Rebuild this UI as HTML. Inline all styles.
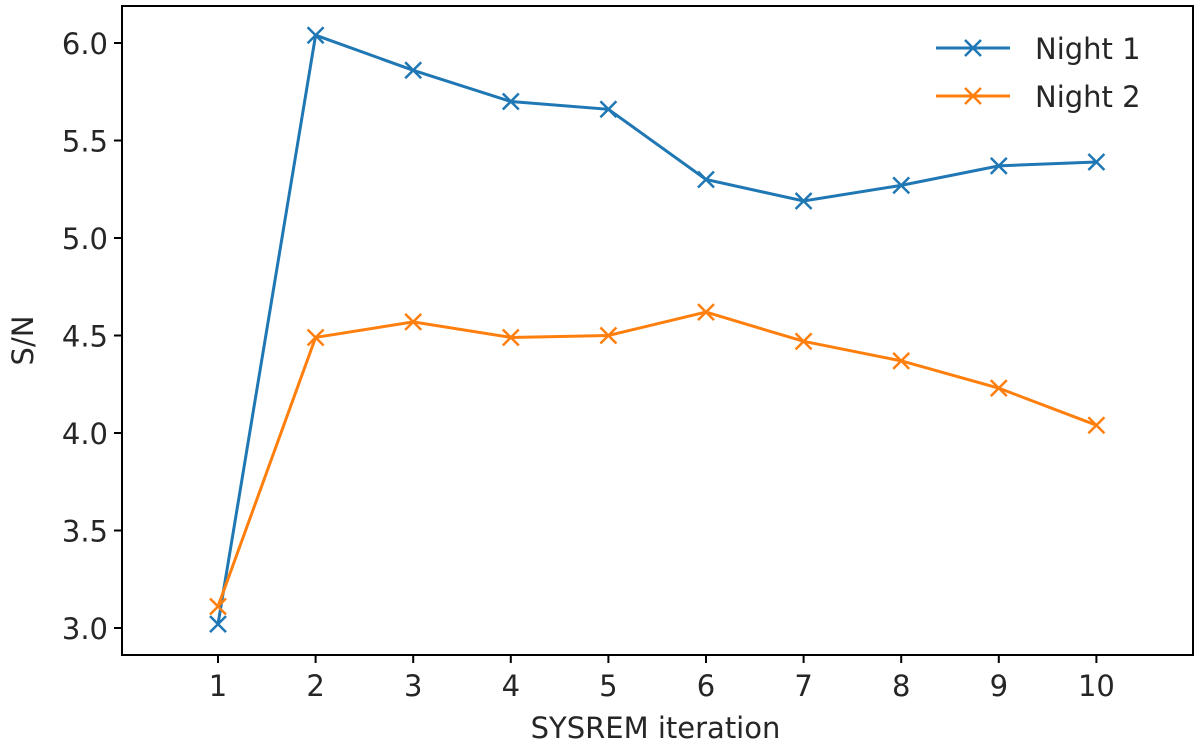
<!DOCTYPE html>
<html><head><meta charset="utf-8"><style>
body{margin:0;background:#fff}
svg text{font-family:"DejaVu Sans","Liberation Sans",sans-serif;fill:#262626}
</style></head><body>
<svg id="chart" width="1200" height="748" xmlns="http://www.w3.org/2000/svg">
<g id="plot"></g>
</svg>
<script>
const iterations=[1,2,3,4,5,6,7,8,9,10];
const night1=[3.02,6.04,5.86,5.70,5.66,5.30,5.19,5.27,5.37,5.39];
const night2=[3.11,4.49,4.57,4.49,4.50,4.62,4.47,4.37,4.23,4.04];
const yTicks=[3.0,3.5,4.0,4.5,5.0,5.5,6.0];
const xTicks=[1,2,3,4,5,6,7,8,9,10];
const NS="http://www.w3.org/2000/svg";
const L=122,R=1193,T=6,B=655;
const FS=29;
const xs=v=>218+(v-1)*97.6;
const ys=v=>628-(v-3)*195;
const g=document.getElementById('plot');
function mk(t,a,p){const e=document.createElementNS(NS,t);for(const k in a)e.setAttribute(k,a[k]);(p||g).appendChild(e);return e;}
const frame=mk('rect',{x:L,y:T,width:R-L,height:B-T,fill:'none',stroke:'#000','stroke-width':2});


yTicks.forEach(v=>{
  const tk=mk('line',{x1:L-8,x2:L,y1:ys(v),y2:ys(v),stroke:'#000','stroke-width':2});
  
  
  const tx=mk('text',{x:L-14,y:ys(v)+11,'text-anchor':'end','font-size':FS});
  tx.textContent=v.toFixed(1);
  
  
});
xTicks.forEach(v=>{
  const tk=mk('line',{x1:xs(v),x2:xs(v),y1:B,y2:B+8,stroke:'#000','stroke-width':2});
  
  
  const tx=mk('text',{x:xs(v),y:B+41,'text-anchor':'middle','font-size':FS});
  tx.textContent=v;
  
  
});
const xt=mk('text',{x:(L+R)/2-2,y:738,'text-anchor':'middle','font-size':FS});
xt.textContent='SYSREM iteration';


const yt=mk('text',{x:0,y:0,'text-anchor':'middle','font-size':FS,transform:`translate(33,${(T+B)/2+10}) rotate(-90)`});
yt.textContent='S/N';


function marker(x,y,c,name){
  const s=8;
  const m=mk('path',{d:`M${x-s},${y-s}L${x+s},${y+s}M${x-s},${y+s}L${x+s},${y-s}`,stroke:c,'stroke-width':2.5,fill:'none'});
  
  
}
function series(vals,c,name){
  const p=mk('polyline',{points:vals.map((v,i)=>xs(iterations[i])+','+ys(v)).join(' '),fill:'none',stroke:c,'stroke-width':3});
  
  
  vals.forEach((v,i)=>marker(xs(iterations[i]),ys(v),c,name+'-point'));
}
series(night1,'#1f77b4','night-1');
series(night2,'#ff7f0e','night-2');
[['Night 1','#1f77b4',48],['Night 2','#ff7f0e',96]].forEach(([lab,c,y])=>{
  const ln=mk('line',{x1:936,x2:1010,y1:y,y2:y,stroke:c,'stroke-width':3});
  
  
  marker(973,y,c,'legend-marker');
  const tx=mk('text',{x:1035,y:y+11,'font-size':FS});
  tx.textContent=lab;
  
  
});
</script>
</body></html>
